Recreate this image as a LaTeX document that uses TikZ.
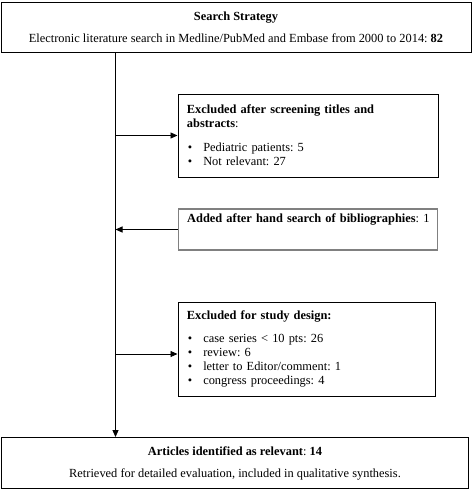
\documentclass[tikz,border=0pt]{standalone}
\usepackage{fontspec}
\setmainfont{Liberation Serif}
\usetikzlibrary{arrows.meta}
\frenchspacing

\tikzset{
	box/.style={draw=black, line width=0.9pt, inner sep=0pt},
	sidebox/.style={box, anchor=west, align=left, inner xsep=9pt},
	arr/.style={line width=0.9pt, -{Triangle[length=7pt, width=6pt]}}
}

\begin{document}
\begin{tikzpicture}[x=1pt, y=1pt, font=\fontsize{12.4}{14}\selectfont]

		\useasboundingbox (0, 0) rectangle (473, -490);

		\coordinate (spine) at (115.5, 0);

		\node [box, minimum width=470, minimum height=50, align=center] (search) at (236, -27)
			{\textbf{Search Strategy}\\[8pt]
			 Electronic literature search in Medline/PubMed and Embase from 2000 to 2014: \textbf{82}};

		\node [sidebox, text width=242, minimum height=83] (screen) at (177.5, -135.5)
			{\textbf{Excluded after screening titles and}\\
			 \textbf{abstracts}:\\[10pt]
			 \hspace*{1pt}\textbullet\hspace{11pt}Pediatric patients: 5\\
			 \hspace*{1pt}\textbullet\hspace{11pt}Not relevant: 27};

		\node [sidebox, draw=gray, line width=1.4pt, text width=241, minimum height=41] (hand) at (177.5, -229.5)
			{\mbox{\textbf{Added after hand search of bibliographies}: 1}\\[4pt]\strut};

		\node [sidebox, text width=239, minimum height=94] (design) at (177.5, -349)
			{\textbf{Excluded for study design:}\\[9pt]
			 \hspace*{1pt}\textbullet\hspace{11pt}case series < 10 pts: 26\\
			 \hspace*{1pt}\textbullet\hspace{11pt}review: 6\\
			 \hspace*{1pt}\textbullet\hspace{11pt}letter to Editor/comment: 1\\
			 \hspace*{1pt}\textbullet\hspace{11pt}congress proceedings: 4};

		\node [box, minimum width=467, minimum height=51, align=center] (relevant) at (235, -463)
			{\textbf{Articles identified as relevant}: \textbf{14}\\[8pt]
			 Retrieved for detailed evaluation, included in qualitative synthesis.};

		\coordinate (designin) at ([yshift=-5pt]design.west);

		\draw [arr] (search.south -| spine) -- (relevant.north -| spine);
		\draw [arr] (spine |- screen.west) -- (screen.west);
		\draw [arr] (hand.west) -- (spine |- hand.west);
		\draw [arr] (spine |- designin) -- (designin);
	\end{tikzpicture}
\end{document}
